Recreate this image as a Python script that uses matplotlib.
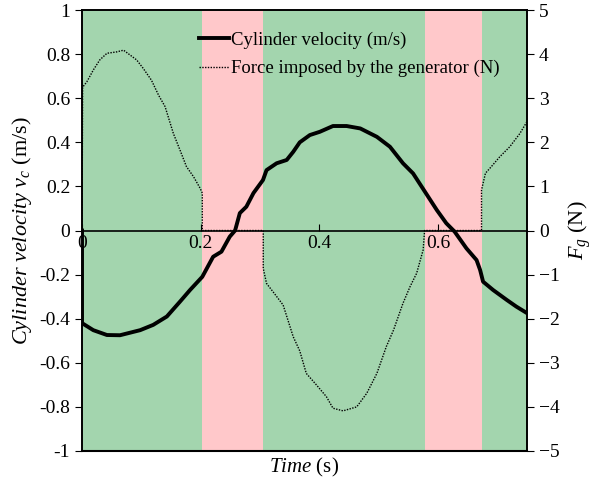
import numpy as np
from matplotlib import pyplot as plt

plt.rcParams['font.family'] = ['Liberation Serif', 'DejaVu Serif']
plt.rcParams['mathtext.fontset'] = 'custom'
plt.rcParams['mathtext.it'] = 'Liberation Serif:italic'
plt.rcParams['mathtext.rm'] = 'Liberation Serif'

# Cylinder velocity (m/s)
velTime = [0.0, 0.0, 0.019, 0.042, 0.064, 0.098, 0.12, 0.143, 0.165, 0.182, 0.2027, 0.221, 0.235,
           0.249, 0.258, 0.266, 0.277, 0.289, 0.305, 0.311, 0.328, 0.345, 0.356, 0.367, 0.384,
           0.401, 0.423, 0.446, 0.469, 0.497, 0.519, 0.541, 0.558, 0.578, 0.598, 0.614, 0.628,
           0.648, 0.665, 0.671, 0.676, 0.693, 0.716, 0.732, 0.749]
velocity = [0.0, -0.42, -0.452, -0.474, -0.475, -0.452, -0.428, -0.39, -0.323, -0.27, -0.21, -0.119,
            -0.096, -0.028, 0.0, 0.079, 0.108, 0.17, 0.229, 0.274, 0.305, 0.32, 0.357, 0.4, 0.433,
            0.448, 0.474, 0.474, 0.463, 0.425, 0.38, 0.305, 0.259, 0.176, 0.093, 0.033, -0.005,
            -0.081, -0.134, -0.179, -0.232, -0.27, -0.315, -0.345, -0.373]

# Force imposed by the generator (N)
forceTime = [0.0, 0.001, 0.008, 0.019, 0.030, 0.042, 0.058, 0.07, 0.081, 0.092, 0.103, 0.117, 0.129,
             0.14, 0.154, 0.165, 0.176, 0.188, 0.199, 0.2027, 0.2027, 0.3055, 0.3055, 0.311, 0.322,
             0.339, 0.356, 0.367, 0.378, 0.395, 0.412, 0.423, 0.44, 0.463, 0.48, 0.497, 0.513,
             0.525, 0.541, 0.553, 0.564, 0.575, 0.5774, 0.6734, 0.6734, 0.68, 0.69, 0.704, 0.721,
             0.738, 0.75]
force = [0.0, 3.25, 3.37, 3.64, 3.87, 4.02, 4.05, 4.09, 3.98, 3.87, 3.68, 3.41, 3.07, 2.81, 2.2,
         1.83, 1.45, 1.22, 0.96, 0.85, 0.0, 0.0, -0.86, -1.2, -1.39, -1.69, -2.41, -2.73, -3.24,
         -3.5, -3.77, -4.03, -4.09, -4.0, -3.69, -3.24, -2.63, -2.26, -1.65, -1.27, -0.97, -0.44,
         0.0, 0.0, 0.92, 1.3, 1.45, 1.67, 1.9, 2.2, 2.47]

# Shaded phases (start, end, colour)
phaseEdges = [0.0, 0.2027, 0.3055, 0.5774, 0.6734, 0.75]
phaseColours = ["#a3d5ae", "#ffc8ca", "#a3d5ae", "#ffc8ca", "#a3d5ae"]

fig = plt.figure(figsize=(6, 4.79), dpi=100)
ax = fig.add_axes([0.1367, 0.0585, 0.7416, 0.9205])
ax2 = ax.twinx()

for i in range(len(phaseColours)):
    ax.axvspan(phaseEdges[i], phaseEdges[i+1], color=phaseColours[i], lw=0, zorder=0)

velLine, = ax.plot(velTime, velocity, color="black", lw=2.8, label="Cylinder velocity (m/s)", zorder=3)
forceLine, = ax2.plot(forceTime, force, color="black", lw=1.0, linestyle=(0, (1, 1)),
                      label="Force imposed by the generator (N)")

ax.set_xlim(0, 0.75)
ax.set_ylim(-1, 1)
ax2.set_ylim(-5, 5)
ax.set_yticks(np.arange(-1, 1.01, 0.2))
ax.set_yticklabels(["-1", "-0.8", "-0.6", "-0.4", "-0.2", "0", "0.2", "0.4", "0.6", "0.8", "1"])
ax2.set_yticks(range(-5, 6))
ax.set_xticks([0, 0.2, 0.4, 0.6])
ax.set_xticklabels(["0", "0.2", "0.4", "0.6"])

# x axis sits on the zero line, frame kept round the plot area
ax.spines['bottom'].set_position(('data', 0))
ax.axhline(-1, color="black", lw=1.5, clip_on=False, zorder=4)
ax.tick_params(axis='x', direction='in', length=5, labelsize=14, pad=3)
ax.tick_params(axis='y', direction='out', length=5, labelsize=14)
ax2.tick_params(axis='y', direction='out', length=5, labelsize=14)
for a in (ax, ax2):
    for s in a.spines.values():
        s.set_linewidth(1.2)

ax.set_ylabel(r"$Cylinder\ velocity\ v_c$ (m/s)", fontsize=16, labelpad=4)
ax2.set_ylabel(r"$F_g$ (N)", fontsize=16, labelpad=5)
ax.set_xlabel(r"$Time$ (s)", fontsize=15, labelpad=0)
ax.xaxis.set_label_coords(0.5, -0.012)

leg = ax.legend(handles=[velLine, forceLine], loc="upper center", bbox_to_anchor=(0.6, 0.99),
                frameon=False, fontsize=13.5, handlelength=1.6, handletextpad=0.1, labelspacing=0.6)

fig.savefig("out.png", dpi=100)
